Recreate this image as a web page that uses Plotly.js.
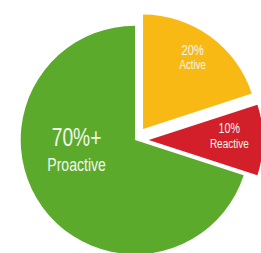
<!DOCTYPE html>
<html>
<head>
<meta charset="utf-8">
<script src="https://cdn.plot.ly/plotly-3.0.1.min.js"></script>
<style>
html,body{margin:0;padding:0;width:261px;height:253px;overflow:hidden;background:#fff;}
#chart{position:absolute;left:7px;top:12px;width:256px;height:256px;}
#chart text.annotation-text{transform-box:fill-box;transform-origin:center;transform:scaleX(0.74);}
</style>
</head>
<body>
<div id="chart"></div>
<script>
var labels = ['Active', 'Reactive', 'Proactive'];
var values = [20, 10, 70];
var pctText = ['20%', '10%', '70%+'];
var colors = ['#F8B914', '#D21F2A', '#5BAA2C'];
var pulls = [0.12, 0.12, 0];

var FONT = '"Liberation Sans", Arial, sans-serif';
var txtColor = '#f3f7ee';

// label placement (paper coords), base size (line spacing) and line font sizes
var labelPos = [
  {x: 0.7227, y: 0.8252, base: 10.4, s1: 15, s2: 13},
  {x: 0.8672, y: 0.5176, base: 11.5, s1: 14.5, s2: 13.5},
  {x: 0.2730, y: 0.4668, base: 19.2, s1: 26, s2: 19}
];

var annotations = [];
for (var i = 0; i < labels.length; i++) {
  var p = labelPos[i];
  annotations.push({x: p.x, y: p.y, xref: 'paper', yref: 'paper',
    text: '<span style="font-size:' + p.s1 + 'px">' + pctText[i] + '</span><br>' +
          '<span style="font-size:' + p.s2 + 'px">' + labels[i] + '</span>',
    showarrow: false, xanchor: 'center', yanchor: 'middle',
    font: {family: FONT, size: p.base, color: txtColor}});
}

var trace = {
  type: 'pie',
  labels: labels,
  values: values,
  sort: false,
  direction: 'clockwise',
  rotation: 0,
  pull: pulls,
  marker: {colors: colors, line: {color: '#ffffff', width: 0}},
  textinfo: 'none',
  hoverinfo: 'none',
  domain: {x: [0, 1], y: [0, 1]}
};

var layout = {
  width: 256, height: 256,
  margin: {l: 0, r: 0, t: 0, b: 0},
  showlegend: false,
  paper_bgcolor: '#ffffff',
  annotations: annotations
};

Plotly.newPlot('chart', [trace], layout, {displayModeBar: false, staticPlot: true});
</script>
</body>
</html>
